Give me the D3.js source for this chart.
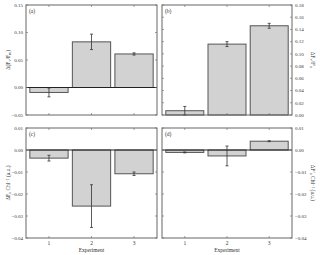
<!DOCTYPE html>
<html>
<head>
<meta charset="utf-8">
<script src="https://cdn.jsdelivr.net/npm/d3@7"></script>
<style>
  body { margin: 0; background: #fff; }
  text { font-family: "Liberation Serif", "DejaVu Serif", serif; fill: #333; }
</style>
</head>
<body>
<div id="chart"></div>
<script>
// categories
var experiments = ["1", "2", "3"];

// panel (a) Δ(Fv/Fm)
var valuesA = [-0.009, 0.083, 0.061];
var errorsA = [0.008, 0.014, 0.002];
var ticksA = [-0.05, 0.00, 0.05, 0.10, 0.15];

// panel (b)
var valuesB = [0.007, 0.116, 0.146];
var errorsB = [0.007, 0.004, 0.004];
var ticksB = [0.00, 0.02, 0.04, 0.06, 0.08, 0.10, 0.12, 0.14, 0.16, 0.18];

// panel (c) ΔFo Chl-1
var valuesC = [-0.0037, -0.0255, -0.0108];
var errorsC = [0.0013, 0.0097, 0.0008];
var ticksC = [-0.04, -0.03, -0.02, -0.01, 0.00, 0.01];

// panel (d)
var valuesD = [-0.0011, -0.0027, 0.0040];
var errorsD = [0.0002, 0.0045, 0.0002];
var ticksD = [-0.04, -0.03, -0.02, -0.01, 0.00, 0.01];

// axis titles as [text, position] pieces
var labelA = [["Δ(F", ""], ["v", "sub"], ["/F", ""], ["m", "sub"], [")", ""]];
var labelB = [["ΔF", ""], ["v", "sub"], ["/F\u2032", ""], ["o", "sub"]];
var labelC = [["ΔF", ""], ["o", "sub"], [" Chl", ""], ["\u22121", "sup"], [" (a.u.)", ""]];
var labelD = [["ΔF\u2032", ""], ["o", "sub"], [" Chl", ""], ["\u22121", "sup"], [" (a.u.)", ""]];

var width = 320, height = 255;

var svg = d3.select("#chart").append("svg")
    .attr("width", width)
    .attr("height", height);

var panels = [
    {id: "(a)", vals: valuesA, errs: errorsA, ticks: ticksA, domain: [-0.05, 0.15],
     x0: 26, x1: 157, y0: 5, y1: 115, side: "left", label: labelA, bottom: false, zero: true},
    {id: "(b)", vals: valuesB, errs: errorsB, ticks: ticksB, domain: [0, 0.18],
     x0: 162, x1: 292, y0: 5, y1: 115, side: "right", label: labelB, bottom: false, zero: false},
    {id: "(c)", vals: valuesC, errs: errorsC, ticks: ticksC, domain: [-0.04, 0.01],
     x0: 26, x1: 157, y0: 128, y1: 238, side: "left", label: labelC, bottom: true, zero: true},
    {id: "(d)", vals: valuesD, errs: errorsD, ticks: ticksD, domain: [-0.04, 0.01],
     x0: 162, x1: 292, y0: 128, y1: 238, side: "right", label: labelD, bottom: true, zero: true}
];

function fmt(v) {
    var s = d3.format(".2f")(Math.abs(v));
    return (v < -1e-9 ? "\u2212" + s : s);
}

panels.forEach(function (p) {
    var x = d3.scaleBand()
        .domain(experiments)
        .range([p.x0, p.x1])
        .paddingInner(0.1)
        .paddingOuter(0.09);

    var y = d3.scaleLinear()
        .domain(p.domain)
        .range([p.y1, p.y0]);

    var g = svg.append("g");

    // bars
    g.selectAll("rect.bar")
        .data(p.vals)
        .enter()
        .append("rect")
        .attr("class", "bar")
        .attr("x", function (d, i) { return x(experiments[i]); })
        .attr("width", x.bandwidth())
        .attr("y", function (d) { return y(Math.max(0, d)); })
        .attr("height", function (d) { return Math.abs(y(d) - y(0)); })
        .attr("fill", "#d2d2d2")
        .attr("stroke", "#555")
        .attr("stroke-width", 1);

    // zero line
    if (p.zero) {
        g.append("line")
            .attr("x1", p.x0).attr("x2", p.x1)
            .attr("y1", y(0)).attr("y2", y(0))
            .attr("stroke", "#222").attr("stroke-width", 1);
    }

    // error bars
    var eb = g.selectAll("g.err")
        .data(p.vals)
        .enter()
        .append("g")
        .attr("class", "err");
    eb.append("line")
        .attr("x1", function (d, i) { return x(experiments[i]) + x.bandwidth() / 2; })
        .attr("x2", function (d, i) { return x(experiments[i]) + x.bandwidth() / 2; })
        .attr("y1", function (d, i) { return y(d - p.errs[i]); })
        .attr("y2", function (d, i) { return y(d + p.errs[i]); })
        .attr("stroke", "#333").attr("stroke-width", 0.8);
    [-1, 1].forEach(function (sgn) {
        eb.append("line")
            .attr("x1", function (d, i) { return x(experiments[i]) + x.bandwidth() / 2 - 1.5; })
            .attr("x2", function (d, i) { return x(experiments[i]) + x.bandwidth() / 2 + 1.5; })
            .attr("y1", function (d, i) { return y(d + sgn * p.errs[i]); })
            .attr("y2", function (d, i) { return y(d + sgn * p.errs[i]); })
            .attr("stroke", "#333").attr("stroke-width", 0.8);
    });

    // frame
    g.append("rect")
        .attr("x", p.x0).attr("y", p.y0)
        .attr("width", p.x1 - p.x0).attr("height", p.y1 - p.y0)
        .attr("fill", "none")
        .attr("stroke", "#666").attr("stroke-width", 1);

    // y ticks inward on both sides
    g.selectAll("line.yt")
        .data(p.ticks)
        .enter()
        .append("line")
        .attr("x1", p.x0).attr("x2", p.x0 + 2)
        .attr("y1", function (d) { return y(d); })
        .attr("y2", function (d) { return y(d); })
        .attr("stroke", "#666").attr("stroke-width", 0.6);
    g.selectAll("line.yt2")
        .data(p.ticks)
        .enter()
        .append("line")
        .attr("x1", p.x1 - 2).attr("x2", p.x1)
        .attr("y1", function (d) { return y(d); })
        .attr("y2", function (d) { return y(d); })
        .attr("stroke", "#666").attr("stroke-width", 0.6);

    // x ticks inward on top and bottom
    experiments.forEach(function (e) {
        var cx = x(e) + x.bandwidth() / 2;
        g.append("line").attr("x1", cx).attr("x2", cx)
            .attr("y1", p.y1).attr("y2", p.y1 - 2)
            .attr("stroke", "#666").attr("stroke-width", 0.6);
        g.append("line").attr("x1", cx).attr("x2", cx)
            .attr("y1", p.y0).attr("y2", p.y0 + 2)
            .attr("stroke", "#666").attr("stroke-width", 0.6);
    });

    // y tick labels
    g.selectAll("text.yl")
        .data(p.ticks)
        .enter()
        .append("text")
        .attr("x", p.side === "left" ? p.x0 - 3 : p.x1 + 3)
        .attr("y", function (d) { return y(d); })
        .attr("dy", "0.35em")
        .attr("text-anchor", p.side === "left" ? "end" : "start")
        .style("font-size", "5px")
        .text(fmt);

    // axis title
    var cy = (p.y0 + p.y1) / 2;
    var tx = p.side === "left" ? 8 : 313;
    var title = g.append("text")
        .attr("transform", "translate(" + tx + "," + cy + ") rotate(" + (p.side === "left" ? -90 : 90) + ")")
        .attr("text-anchor", "middle")
        .attr("dy", "0.35em")
        .style("font-size", "5.5px");
    p.label.forEach(function (piece) {
        var ts = title.append("tspan").text(piece[0]);
        if (piece[1] === "sub") ts.attr("baseline-shift", "-25%").style("font-size", "4px");
        if (piece[1] === "sup") ts.attr("baseline-shift", "35%").style("font-size", "4px");
    });

    // panel letter
    g.append("text")
        .attr("x", p.x0 + 3).attr("y", p.y0 + 8)
        .style("font-size", "5.5px")
        .text(p.id);

    // bottom axis labels
    if (p.bottom) {
        experiments.forEach(function (e) {
            g.append("text")
                .attr("x", x(e) + x.bandwidth() / 2)
                .attr("y", p.y1 + 7)
                .attr("text-anchor", "middle")
                .style("font-size", "5.5px")
                .text(e);
        });
        g.append("text")
            .attr("x", (p.x0 + p.x1) / 2)
            .attr("y", p.y1 + 14)
            .attr("text-anchor", "middle")
            .style("font-size", "5.5px")
            .text("Experiment");
    }
});
</script>
</body>
</html>
